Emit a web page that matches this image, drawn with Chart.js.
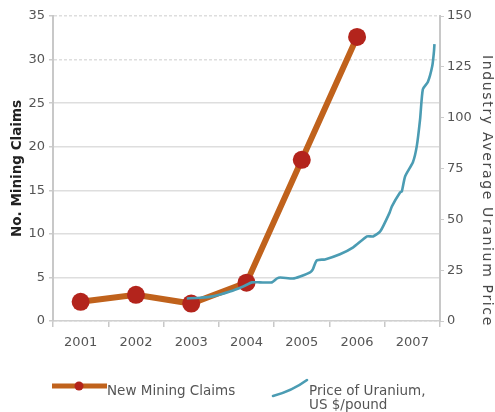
<!DOCTYPE html>
<html>
<head>
<meta charset="utf-8">
<script src="https://cdn.jsdelivr.net/npm/chart.js@4.4.1/dist/chart.umd.min.js"></script>
<style>
  html, body { margin: 0; padding: 0; background: #fff; }
  #wrap { position: relative; width: 495px; height: 412px; overflow: hidden; font-family: "DejaVu Sans", sans-serif; }
  #c { position: absolute; left: 0; top: 0; }
  .rtitle { position: absolute; left: 488px; top: 191px; transform: translate(-50%, -50%) rotate(90deg); white-space: nowrap; font-size: 14px; color: #444; letter-spacing: 1.65px; }
  .leg { position: absolute; font-size: 13.5px; color: #555; line-height: 14px; white-space: nowrap; }
  svg.icon { position: absolute; }
</style>
</head>
<body>
<div id="wrap">
  <canvas id="c" width="495" height="412"></canvas>
  <div class="rtitle">Industry Average Uranium Price</div>
  <svg class="icon" style="left:48px;top:378px" width="64" height="16">
    <line x1="4" y1="8" x2="59" y2="8" stroke="#C0621C" stroke-width="5"/>
    <circle cx="31" cy="8" r="4.5" fill="#B3241C"/>
  </svg>
  <div class="leg" style="left:107px;top:383px;">New Mining Claims</div>
  <svg class="icon" style="left:268px;top:374px" width="44" height="28">
    <path d="M5 22 Q24 17 39 6" fill="none" stroke="#4B9CB3" stroke-width="2.6" stroke-linecap="round"/>
  </svg>
  <div class="leg" style="left:309px;top:383px;">Price of Uranium,<br>US $/pound</div>
</div>
<script>
// ---- data ----
const years = ['2001', '2002', '2003', '2004', '2005', '2006', '2007'];
const miningClaims = [2.2, 3.0, 2.0, 4.4, 18.5, 32.6, null];
const uraniumDates = [2002.92, 2003.16, 2003.39, 2003.70, 2003.94, 2004.10, 2004.24, 2004.46, 2004.55, 2004.61,
  2004.84, 2004.97, 2005.15, 2005.20, 2005.27, 2005.42, 2005.69, 2005.93, 2006.18, 2006.29,
  2006.42, 2006.59, 2006.63, 2006.78, 2006.81, 2006.87, 2007.01, 2007.08, 2007.14, 2007.19,
  2007.28, 2007.36, 2007.39, 2007.40];
const uraniumPrice = [11.1, 11.4, 12.1, 14.5, 17.0, 19.0, 19.0, 19.0, 20.9, 21.4,
  20.9, 21.9, 23.9, 25.4, 29.8, 30.3, 32.8, 36.2, 41.6, 41.6,
  44.1, 53.4, 56.4, 63.3, 63.8, 71.2, 78.1, 86.0, 99.3, 114.0,
  117.5, 125.4, 132.3, 136.2];
const leftTicks = [0, 5, 10, 15, 20, 25, 30, 35];
const rightTicks = [0, 25, 50, 75, 100, 125, 150];

const uraniumPoints = uraniumDates.map((d, i) => ({ x: d, y: uraniumPrice[i] }));
const tickFont = { family: 'DejaVu Sans', size: 13 };
const tickColor = '#555';

new Chart(document.getElementById('c'), {
  type: 'line',
  data: {
    labels: years,
    datasets: [
      {
        label: 'New Mining Claims',
        data: miningClaims,
        xAxisID: 'x',
        yAxisID: 'y',
        borderColor: '#C0621C',
        borderWidth: 6,
        pointRadius: 9,
        pointBackgroundColor: '#B3241C',
        pointBorderWidth: 0,
        tension: 0,
        order: 1
      },
      {
        label: 'Price of Uranium, US $/pound',
        data: uraniumPoints,
        xAxisID: 'x2',
        yAxisID: 'y2',
        borderColor: '#4B9CB3',
        borderWidth: 2.6,
        pointRadius: 0,
        tension: 0.2,
        order: 0
      }
    ]
  },
  options: {
    responsive: false,
    animation: false,
    layout: { padding: { top: 16, left: 0, right: 0, bottom: 0 } },
    plugins: { legend: { display: false }, tooltip: { enabled: false } },
    scales: {
      x: {
        type: 'category',
        offset: true,
        grid: { offset: true, drawOnChartArea: false, tickLength: 6, color: '#c8c8c8', lineWidth: 1.5 },
        border: { color: '#d0d0d0', width: 1.5, dash: [3, 2] },
        ticks: { font: tickFont, color: tickColor, padding: 8 },
        afterFit: s => { s.height = 91; }
      },
      x2: { type: 'linear', display: false, min: 2000.5, max: 2007.5 },
      y: {
        position: 'left',
        min: 0, max: 35,
        afterBuildTicks: s => { s.ticks = leftTicks.map(v => ({ value: v })); },
        grid: { color: '#dedede', lineWidth: 1.5, tickLength: 4, tickColor: '#ccc' },
        border: { color: '#c8c8c8', width: 2, dash: ctx => (ctx.tick && (ctx.tick.value === 35 || ctx.tick.value === 30 || ctx.tick.value === 0)) ? [3, 2] : [] },
        ticks: { font: tickFont, color: tickColor, padding: 4 },
        title: { display: true, text: 'No. Mining Claims', color: '#222', font: { family: 'DejaVu Sans', size: 13.5, weight: 'bold' }, padding: { top: 9, bottom: 0 } },
        afterFit: s => { s.width = 53; }
      },
      y2: {
        position: 'right',
        min: 0, max: 150,
        afterBuildTicks: s => { s.ticks = rightTicks.map(v => ({ value: v })); },
        grid: { drawOnChartArea: false, tickLength: 4, color: '#ccc' },
        border: { color: '#c8c8c8', width: 2 },
        ticks: { font: tickFont, color: tickColor, padding: 3 },
        afterFit: s => { s.width = 55; }
      }
    }
  }
});
</script>
</body>
</html>
